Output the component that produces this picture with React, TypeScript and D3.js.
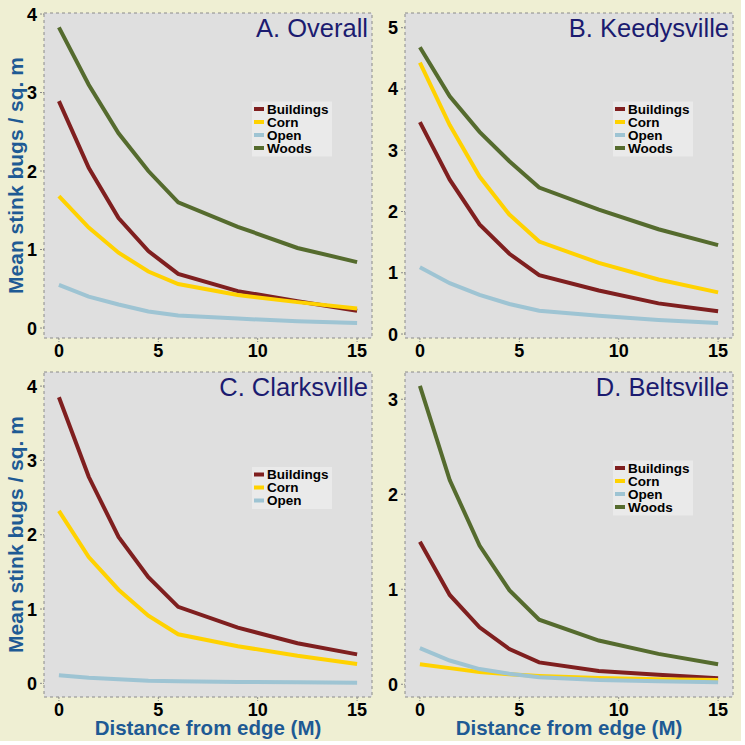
import React, { useRef, useEffect } from "react";
import * as d3 from "d3";

// distance from edge (m)
const distances = [0, 1.5, 3, 4.5, 6, 9, 12, 15];

// A. Overall
const overallBuildings = [2.89, 2.04, 1.4, 0.98, 0.69, 0.47, 0.34, 0.22];
const overallCorn = [1.68, 1.28, 0.96, 0.72, 0.56, 0.42, 0.33, 0.25];
const overallOpen = [0.55, 0.4, 0.3, 0.21, 0.16, 0.12, 0.085, 0.065];
const overallWoods = [3.83, 3.1, 2.48, 2.0, 1.6, 1.29, 1.02, 0.84];

// B. Keedysville
const keedyBuildings = [3.46, 2.52, 1.79, 1.31, 0.96, 0.71, 0.5, 0.37];
const keedyCorn = [4.43, 3.41, 2.57, 1.95, 1.51, 1.16, 0.89, 0.68];
const keedyOpen = [1.09, 0.83, 0.64, 0.49, 0.38, 0.3, 0.23, 0.18];
const keedyWoods = [4.68, 3.88, 3.3, 2.82, 2.39, 2.03, 1.71, 1.45];

// C. Clarksville (no woods)
const clarksBuildings = [3.85, 2.78, 1.97, 1.43, 1.03, 0.75, 0.54, 0.39];
const clarksCorn = [2.32, 1.7, 1.26, 0.91, 0.66, 0.5, 0.37, 0.26];
const clarksOpen = [0.11, 0.076, 0.054, 0.036, 0.027, 0.018, 0.013, 0.009];

// D. Beltsville
const beltsBuildings = [1.5, 0.94, 0.6, 0.37, 0.23, 0.14, 0.1, 0.063];
const beltsCorn = [0.21, 0.17, 0.13, 0.105, 0.088, 0.067, 0.053, 0.046];
const beltsOpen = [0.38, 0.25, 0.16, 0.11, 0.074, 0.046, 0.032, 0.021];
const beltsWoods = [3.14, 2.15, 1.46, 0.99, 0.68, 0.46, 0.32, 0.21];

const xTicks = [0, 5, 10, 15];

const colors: Record<string, string> = {
  Buildings: "#7f1f1f",
  Corn: "#ffd200",
  Open: "#9ec4d3",
  Woods: "#556b2e",
};

const panels = [
  {
    title: "A. Overall",
    x: 44, y: 13, yDomain: [-0.127, 4.013], yTicks: [0, 1, 2, 3, 4],
    series: [
      { name: "Buildings", values: overallBuildings },
      { name: "Corn", values: overallCorn },
      { name: "Open", values: overallOpen },
      { name: "Woods", values: overallWoods },
    ],
    yLabel: true, xLabel: false,
  },
  {
    title: "B. Keedysville",
    x: 405, y: 13, yDomain: [-0.065, 5.24], yTicks: [0, 1, 2, 3, 4, 5],
    series: [
      { name: "Buildings", values: keedyBuildings },
      { name: "Corn", values: keedyCorn },
      { name: "Open", values: keedyOpen },
      { name: "Woods", values: keedyWoods },
    ],
    yLabel: false, xLabel: false,
  },
  {
    title: "C. Clarksville",
    x: 44, y: 372, yDomain: [-0.184, 4.19], yTicks: [0, 1, 2, 3, 4],
    series: [
      { name: "Buildings", values: clarksBuildings },
      { name: "Corn", values: clarksCorn },
      { name: "Open", values: clarksOpen },
    ],
    yLabel: true, xLabel: true,
  },
  {
    title: "D. Beltsville",
    x: 405, y: 372, yDomain: [-0.134, 3.287], yTicks: [0, 1, 2, 3],
    series: [
      { name: "Buildings", values: beltsBuildings },
      { name: "Corn", values: beltsCorn },
      { name: "Open", values: beltsOpen },
      { name: "Woods", values: beltsWoods },
    ],
    yLabel: false, xLabel: true,
  },
];

const App = () => {
  const svgRef = useRef<SVGSVGElement>(null);

  useEffect(() => {
    const svg = d3.select(svgRef.current);
    svg.selectAll("*").remove();

    const W = 328;
    const H = 325;
    const font = "'Liberation Sans', Arial, sans-serif";

    svg.append("rect").attr("width", 745).attr("height", 745).attr("fill", "#ffffff");
    svg.append("rect").attr("width", 741).attr("height", 741).attr("fill", "#efefd3");

    panels.forEach((p) => {
      const g = svg.append("g").attr("transform", `translate(${p.x}, ${p.y})`);

      const xScale = d3.scaleLinear().domain([-0.75, 15.75]).range([0, W]);
      const yScale = d3.scaleLinear().domain(p.yDomain).range([H, 0]);

      g.append("rect")
        .attr("width", W)
        .attr("height", H)
        .attr("fill", "#dfdfdf")
        .attr("stroke", "#8a8a8a")
        .attr("stroke-width", 1)
        .attr("stroke-dasharray", "3,3");

      // ticks
      g.selectAll(".xtick")
        .data(xTicks)
        .enter()
        .append("line")
        .attr("x1", (d) => xScale(d))
        .attr("x2", (d) => xScale(d))
        .attr("y1", H)
        .attr("y2", H + 4)
        .attr("stroke", "#8a8a8a")
        .attr("stroke-dasharray", "2,1");

      g.selectAll(".xlab")
        .data(xTicks)
        .enter()
        .append("text")
        .attr("x", (d) => xScale(d))
        .attr("y", H + 18.5)
        .attr("text-anchor", "middle")
        .style("font-family", font)
        .style("font-weight", "bold")
        .style("font-size", "18px")
        .text((d) => d);

      g.selectAll(".ytick")
        .data(p.yTicks)
        .enter()
        .append("line")
        .attr("x1", -4)
        .attr("x2", 0)
        .attr("y1", (d) => yScale(d))
        .attr("y2", (d) => yScale(d))
        .attr("stroke", "#8a8a8a")
        .attr("stroke-dasharray", "2,1");

      g.selectAll(".ylab")
        .data(p.yTicks)
        .enter()
        .append("text")
        .attr("x", -7)
        .attr("y", (d) => yScale(d) + 6.5)
        .attr("text-anchor", "end")
        .style("font-family", font)
        .style("font-weight", "bold")
        .style("font-size", "18px")
        .text((d) => d);

      // lines
      const line = d3
        .line<number>()
        .x((d, i) => xScale(distances[i]))
        .y((d) => yScale(d));

      p.series.forEach((s) => {
        g.append("path")
          .datum(s.values)
          .attr("d", line)
          .attr("fill", "none")
          .attr("stroke", colors[s.name])
          .attr("stroke-width", 4);
      });

      // title
      g.append("text")
        .attr("x", W - 4)
        .attr("y", 24)
        .attr("text-anchor", "end")
        .attr("fill", "#1b1b70")
        .style("font-family", font)
        .style("font-size", "25.5px")
        .text(p.title);

      // legend
      const n = p.series.length;
      const boxH = n * 13 + 3;
      const boxTop = 116 - boxH / 2;
      const lg = g.append("g").attr("transform", `translate(${W - 120}, ${boxTop})`);
      lg.append("rect")
        .attr("width", 80)
        .attr("height", boxH)
        .attr("fill", "#ffffff")
        .attr("fill-opacity", 0.35);
      p.series.forEach((s, i) => {
        lg.append("line")
          .attr("x1", 2)
          .attr("x2", 12)
          .attr("y1", 7.5 + i * 13)
          .attr("y2", 7.5 + i * 13)
          .attr("stroke", colors[s.name])
          .attr("stroke-width", 4);
        lg.append("text")
          .attr("x", 15)
          .attr("y", 12.3 + i * 13)
          .style("font-family", font)
          .style("font-weight", "bold")
          .style("font-size", "13.5px")
          .text(s.name);
      });

      if (p.yLabel) {
        g.append("text")
          .attr("transform", `translate(-21, ${H / 2}) rotate(-90)`)
          .attr("text-anchor", "middle")
          .attr("fill", "#1e5a94")
          .style("font-family", font)
          .style("font-weight", "bold")
          .style("font-size", "21px")
          .text("Mean stink bugs / sq. m");
      }
      if (p.xLabel) {
        g.append("text")
          .attr("x", W / 2)
          .attr("y", H + 37.5)
          .attr("text-anchor", "middle")
          .attr("fill", "#1e5a94")
          .style("font-family", font)
          .style("font-weight", "bold")
          .style("font-size", "20.5px")
          .text("Distance from edge (M)");
      }
    });
  }, []);

  return (
    <svg
      ref={svgRef}
      width={745}
      height={745}
      style={{ position: "absolute", left: 0, top: 0, display: "block" }}
    ></svg>
  );
};

export default App;
